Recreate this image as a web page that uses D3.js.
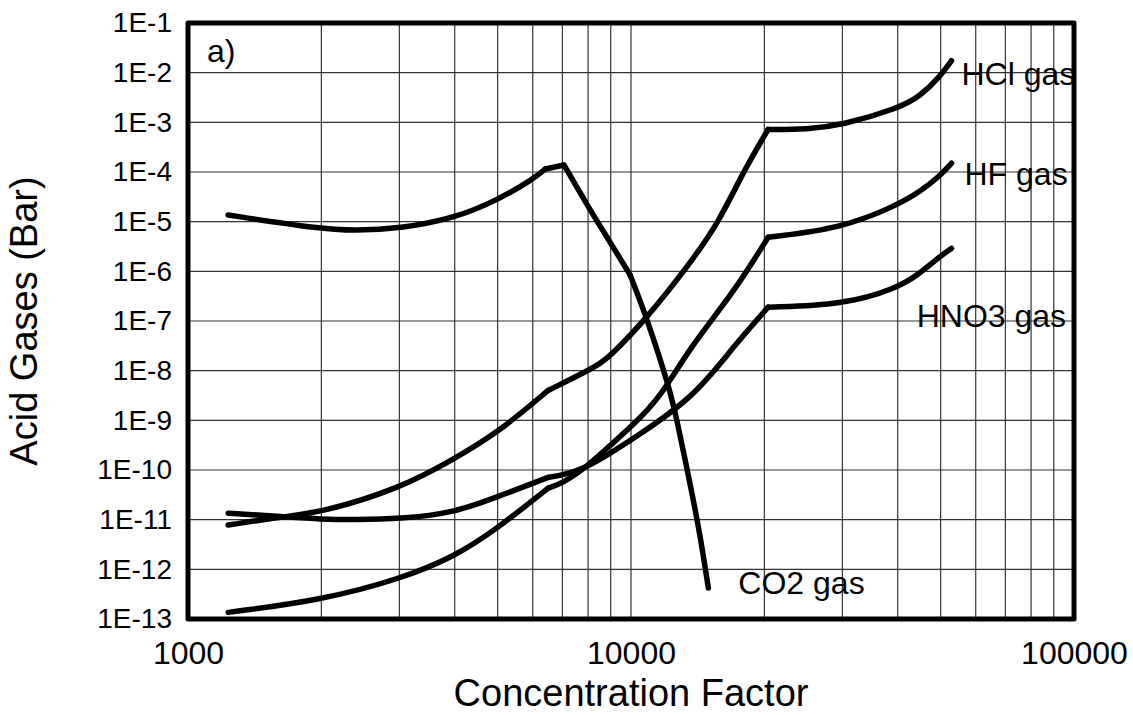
<!DOCTYPE HTML>
<meta charset="utf-8">
<html>
    <head>
        <script src="https://d3js.org/d3.v7.min.js"></script>
        <style>
            body { margin: 0; background: #fff; }
            text { font-family: "Liberation Sans", Arial, sans-serif; fill: #000; }
        </style>
    </head>
    <body>
    </body>
    <script>
        // series: [concentration factor, partial pressure (bar)]
        var co2 = [[1232,1.36e-5],[2000,7.1e-6],[2380,6.6e-6],[3000,7.2e-6],[4000,1.17e-5],[5000,2.73e-5],
                   [6000,7.1e-5],[6410,1.15e-4],[7060,1.38e-4],[8000,2.0e-5],[9000,3.7e-6],[9950,8.5e-7],
                   [10900,1.05e-7],[12250,4.1e-9],[12720,9.3e-10],[13590,5.4e-11],[14300,5.4e-12],[14950,4.2e-13]];
        var hcl = [[1232,7.8e-12],[1640,1.15e-11],[2000,1.4e-11],[3000,4.2e-11],[4000,1.7e-10],
                   [5000,5.6e-10],[6500,4.0e-9],[8000,1.0e-8],[8510,1.4e-8],[9000,2e-8],[10850,1.13e-7],
                   [13590,1.45e-6],[15740,9.3e-6],[17930,1.02e-4],[20400,7.2e-4],[25000,7.2e-4],[30000,8.8e-4],
                   [40000,1.9e-3],[44900,3.3e-3],[49800,8.3e-3],[52900,1.74e-2]];
        var hf  = [[1232,1.36e-13],[2000,2.4e-13],[3000,6.3e-13],[4000,1.8e-12],[5000,6.7e-12],[6500,4.3e-11],
                   [7000,5.4e-11],[7870,1.08e-10],[9000,3.2e-10],[10000,7.4e-10],[11630,2.8e-9],[13590,3.0e-8],
                   [17000,3.6e-7],[20400,4.85e-6],[30000,7.4e-6],[40000,2.17e-5],[44900,4.0e-5],[49800,8.3e-5],
                   [52900,1.5e-4]];
        var hno3 = [[1232,1.35e-11],[1640,1.15e-11],[2000,1.02e-11],[2380,1.0e-11],[3000,1.03e-11],[4000,1.38e-11],
                   [5000,2.9e-11],[6500,7.1e-11],[7000,7.9e-11],[7870,1.08e-10],[9000,2.2e-10],[10000,4.0e-10],
                   [13820,2.8e-9],[17000,3.0e-8],[20400,1.9e-7],[30000,2.1e-7],[40000,4.6e-7],[44900,9.1e-7],
                   [49800,2.0e-6],[52900,2.9e-6]];

        // x values where the curves have a corner
        var co2Kinks = [6410, 7060, 9950];
        var acidKinks = [6500, 20400];

        var seriesNames = ["CO2 gas", "HCl gas", "HF gas", "HNO3 gas"];
        var xTicks = [1000, 10000, 100000];
        var yTicks = [1e-1,1e-2,1e-3,1e-4,1e-5,1e-6,1e-7,1e-8,1e-9,1e-10,1e-11,1e-12,1e-13];

        var margin = {top: 23, right: 59, bottom: 96, left: 188},
            width = 1133 - margin.left - margin.right,
            height = 715 - margin.top - margin.bottom;

        var svg = d3.select("body").append("svg")
                    .attr("width", 1133)
                    .attr("height", 715)
                .append("g")
                    .attr("transform", "translate(" + margin.left + "," + margin.top + ")");

        var x = d3.scaleLog().domain([1000, 100000]).range([0, width]),
            y = d3.scaleLog().domain([1e-13, 1e-1]).range([height, 0]);

        // grid: every 1-9 step on x, every decade on y
        var xMinor = [];
        [1000, 10000].forEach(function(d) {
            for (var k = 2; k <= 9; k++) xMinor.push(d * k);
        });
        xMinor.push(10000);

        svg.append("g").selectAll("line.vx")
            .data(xMinor).enter().append("line")
            .attr("x1", function(d){ return x(d); })
            .attr("x2", function(d){ return x(d); })
            .attr("y1", 0).attr("y2", height)
            .attr("stroke", "#333").attr("stroke-width", 1.2);

        svg.append("g").selectAll("line.hy")
            .data(yTicks.slice(1, -1)).enter().append("line")
            .attr("x1", 0).attr("x2", width)
            .attr("y1", function(d){ return y(d); })
            .attr("y2", function(d){ return y(d); })
            .attr("stroke", "#333").attr("stroke-width", 1.2);

        // curves: each series is cut at its corners and every piece is smoothed on its own
        var line = d3.line()
            .x(function(d){ return x(d[0]); })
            .y(function(d){ return y(d[1]); })
            .curve(d3.curveBasis);

        function pieces(s, kinks) {
            var out = [], cur = [];
            s.forEach(function(p) {
                cur.push(p);
                if (kinks.indexOf(p[0]) >= 0) { out.push(cur); cur = [p]; }
            });
            if (cur.length > 1) out.push(cur);
            return out;
        }

        [[co2, co2Kinks], [hcl, acidKinks], [hf, acidKinks], [hno3, acidKinks]].forEach(function(s) {
            svg.append("g").selectAll("path")
                .data(pieces(s[0], s[1]))
                .enter().append("path")
                .attr("d", line)
                .attr("fill", "none")
                .attr("stroke", "#000")
                .attr("stroke-width", 5.5)
                .attr("stroke-linecap", "round")
                .attr("stroke-linejoin", "round");
        });

        // frame
        svg.append("rect")
            .attr("width", width).attr("height", height)
            .attr("fill", "none").attr("stroke", "#000")
            .attr("stroke-width", 5).attr("stroke-linejoin", "round");

        // axes
        var yAxis = svg.append("g")
            .call(d3.axisLeft(y).tickValues(yTicks).tickSize(0).tickPadding(16)
                  .tickFormat(function(d){ return "1E" + Math.round(Math.log10(d)); }));
        yAxis.select(".domain").remove();
        yAxis.selectAll("text").attr("font-size", 28).attr("font-family", null);

        var xAxis = svg.append("g")
            .attr("transform", "translate(0," + height + ")")
            .call(d3.axisBottom(x).tickValues(xTicks).tickSize(0)
                  .tickFormat(function(d){ return d; }));
        xAxis.select(".domain").remove();
        xAxis.selectAll("text").attr("font-size", 32).attr("font-family", null)
            .attr("dy", null).attr("y", 45);

        // axis titles
        svg.append("text")
            .attr("x", width / 2).attr("y", height + 87)
            .attr("text-anchor", "middle")
            .attr("font-size", 38)
            .text("Concentration Factor");

        svg.append("text")
            .attr("transform", "rotate(-90)")
            .attr("x", -height / 2).attr("y", 37 - margin.left)
            .attr("text-anchor", "middle")
            .attr("font-size", 38)
            .text("Acid Gases (Bar)");

        // series labels, placed next to the curve ends
        var labelPos = [[14950, 4.2e-13, 30], [52900, 1.74e-2, 10], [52900, 1.5e-4, 13], [40000, 1.9e-7, 19]];
        var labelDy = [6, 24, 22, 20];
        seriesNames.forEach(function(n, i) {
            var p = labelPos[i];
            svg.append("text")
                .attr("x", x(p[0]) + p[2])
                .attr("y", y(p[1]) + labelDy[i])
                .attr("font-size", 32)
                .text(n);
        });

        svg.append("text")
            .attr("x", 19).attr("y", 39)
            .attr("font-size", 32)
            .text("a)");
    </script>
</html>
